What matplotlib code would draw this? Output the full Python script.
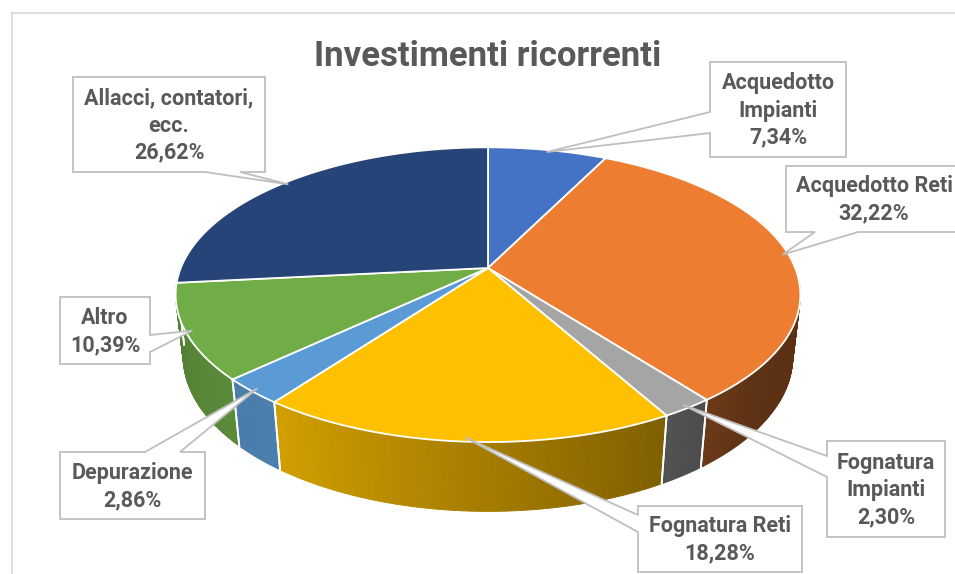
import numpy as np
import matplotlib.pyplot as plt
from matplotlib.patches import Polygon
from matplotlib.colors import to_rgb

plt.rcParams['font.family'] = ['Roboto', 'DejaVu Sans']

# dati del grafico
categorie = ['Acquedotto\nImpianti', 'Acquedotto Reti', 'Fognatura\nImpianti', 'Fognatura Reti',
             'Depurazione', 'Altro', 'Allacci, contatori,\necc.']
valori = [7.34, 32.22, 2.30, 18.28, 2.86, 10.39, 26.62]
colori = ['#4472C4', '#ED7D31', '#A5A5A5', '#FFC000', '#5B9BD5', '#70AD47', '#264478']

# posizioni dei box delle etichette (pixel) e lato del puntatore
box_pos = [(710, 62, 846, 157), (786, 166, 962, 232), (827, 441, 945, 537), (638, 506, 802, 572),
           (60, 452, 205, 519), (60, 297, 150, 364), (73, 77, 265, 172)]
puntatori = [('left', 112, 133), ('bottom', 815, 858), ('left', 456, 477), ('left', 515, 532),
             ('top', 145, 180), ('right', 335, 352), ('bottom', 205, 240)]

# parametri della torta 3D
cx, cy = 488, 268      # vertice delle fette
S = 300                # raggio in pixel
alfa = np.radians(30)  # inclinazione
D = 4.9                # distanza camera (prospettiva)
h = 0.23               # spessore


def proietta(x, y, z):
    Y = y * np.cos(alfa) - z * np.sin(alfa)
    d = y * np.sin(alfa) + z * np.cos(alfa)
    s = D / (D - d)
    return x * s, Y * s


xa, ya = proietta(0, h, 0)


def pix(theta, y, r=1.0):
    # theta in gradi, senso orario dalle ore 12
    t = np.radians(theta)
    X, Y = proietta(r * np.sin(t), y, -r * np.cos(t))
    return cx + S * (X - xa), cy - S * (Y - ya)


def ombra(theta):
    if theta <= 130:
        return 0.39
    if theta <= 215:
        return 0.39 + 0.43 * (theta - 130) / 85
    return 0.82 - 0.10 * min(theta - 215, 55) / 55


fig = plt.figure(figsize=(9.55, 5.74), dpi=100)
ax = fig.add_axes([0, 0, 1, 1])
ax.set_xlim(0, 955)
ax.set_ylim(574, 0)
ax.axis('off')

# cornice dell'area grafico
ax.plot([12, 955], [13, 13], color='#D9D9D9', lw=1.2)
ax.plot([12, 12], [13, 574], color='#D9D9D9', lw=1.2)

tot = sum(valori)
inizi = np.cumsum([0] + valori[:-1]) / tot * 360
fini = np.cumsum(valori) / tot * 360

# lati (solo la parte frontale è visibile)
lati = []
for i in range(len(valori)):
    a0 = max(inizi[i], 90)
    a1 = min(fini[i], 270)
    if a1 <= a0:
        continue
    lati.append((abs((a0 + a1) / 2 - 180), i, a0, a1))
lati.sort(reverse=True)

for _, i, a0, a1 in lati:
    base = np.array(to_rgb(colori[i]))
    n = max(int((a1 - a0) / 0.5), 2)
    tt = np.linspace(a0, a1, n + 1)
    for k in range(n):
        t0, t1 = tt[k], tt[k + 1]
        pts = [pix(t0, h), pix(t1, h), pix(t1, 0), pix(t0, 0)]
        col = base * ombra((t0 + t1) / 2)
        ax.add_patch(Polygon(pts, closed=True, facecolor=col, edgecolor=col, lw=0.6, zorder=2))
    # bordi verticali bianchi tra le fette
    for t in (a0, a1):
        if 90 < t < 270:
            p, q = pix(t, h), pix(t, 0)
            ax.plot([p[0], q[0]], [p[1], q[1]], color='white', lw=1.3, zorder=3)

# facce superiori
centro = (cx, cy)
for i in range(len(valori)):
    tt = np.linspace(inizi[i], fini[i], 200)
    pts = [centro] + [pix(t, h) for t in tt]
    ax.add_patch(Polygon(pts, closed=True, facecolor=colori[i], edgecolor='white',
                         lw=1.3, joinstyle='round', zorder=4))

# etichette con puntatore
for i in range(len(valori)):
    x0, y0, x1, y1 = box_pos[i]
    lato, b0, b1 = puntatori[i]
    mid = (inizi[i] + fini[i]) / 2
    tip = pix(mid, h, 0.98)
    if lato == 'top':
        pts = [(x0, y0), (b0, y0), tip, (b1, y0), (x1, y0), (x1, y1), (x0, y1)]
    elif lato == 'right':
        pts = [(x0, y0), (x1, y0), (x1, b0), tip, (x1, b1), (x1, y1), (x0, y1)]
    elif lato == 'bottom':
        pts = [(x0, y0), (x1, y0), (x1, y1), (b1, y1), tip, (b0, y1), (x0, y1)]
    else:
        pts = [(x0, y0), (x1, y0), (x1, y1), (x0, y1), (x0, b1), tip, (x0, b0)]
    ax.add_patch(Polygon(pts, closed=True, facecolor='white', edgecolor='#BFBFBF',
                         lw=1.3, zorder=6))
    perc = f"{valori[i]:.2f}%".replace('.', ',')
    ax.text((x0 + x1) / 2, (y0 + y1) / 2 + 1, categorie[i] + '\n' + perc, ha='center', va='center',
            fontsize=15.5, fontweight='bold', color='#595959', linespacing=1.3, zorder=7)

ax.text(488, 56, 'Investimenti ricorrenti', ha='center', va='center', fontsize=25,
        fontweight='bold', color='#595959', zorder=7)

fig.savefig('out.png', dpi=100)
